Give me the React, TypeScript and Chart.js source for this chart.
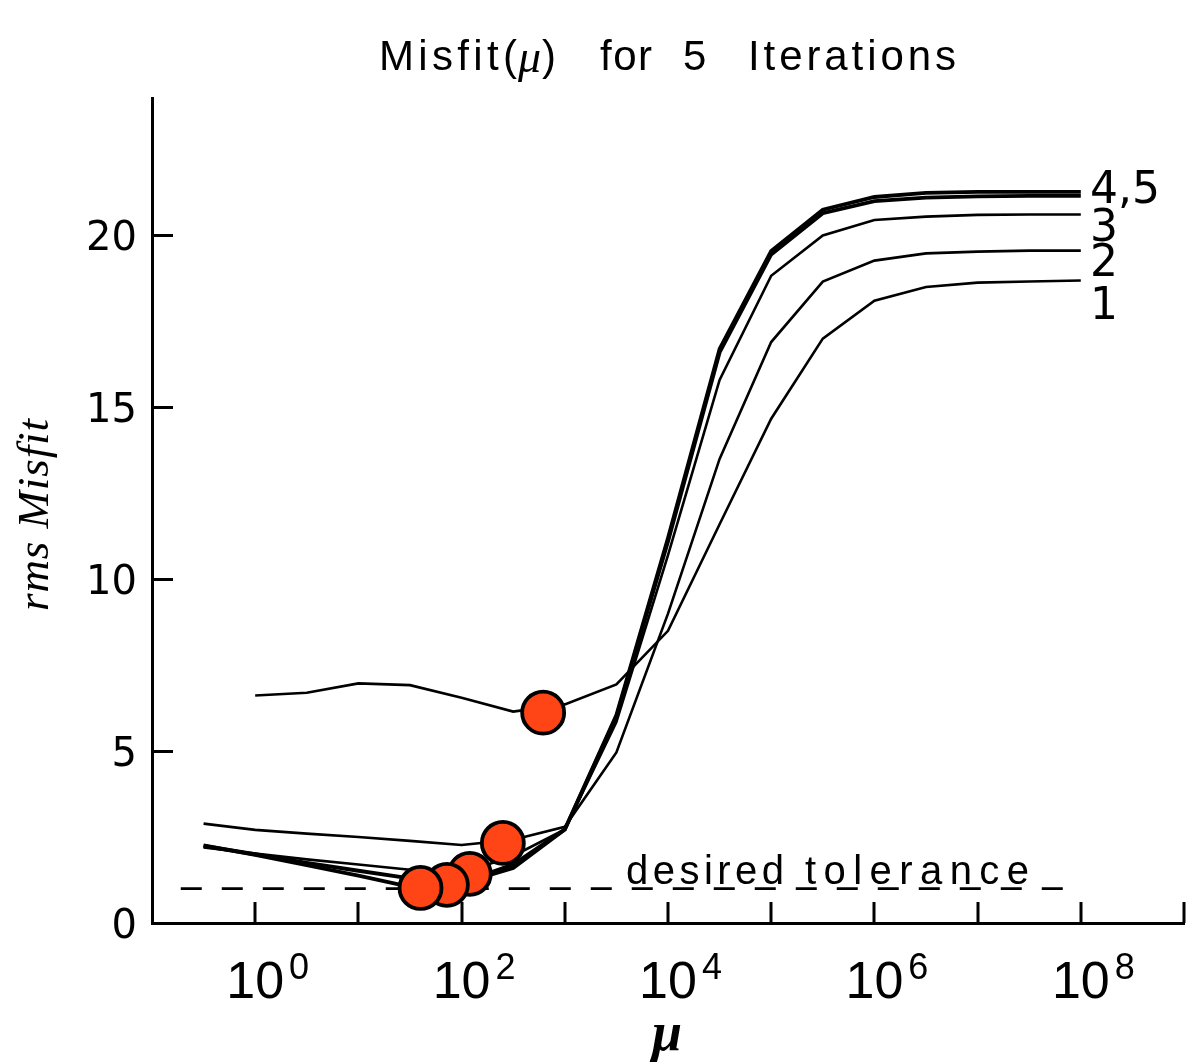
import React, { useEffect, useRef } from 'react';
import { Chart, registerables } from 'chart.js';

Chart.register(...registerables);

// Regularisation parameter mu, sampled every half decade
const mu = [
  0.316, 1, 3.16, 10, 31.6, 100, 316, 1000, 3162, 10000,
  31623, 100000, 316228, 1e6, 3162278, 1e7, 31622777, 1e8,
];

// rms misfit for each iteration as a function of mu
const misfitIter1 = [null, 6.62, 6.7, 6.97, 6.92, 6.55, 6.15, 6.36, 6.94, 8.5, 11.6, 14.67, 17.0, 18.1, 18.5, 18.63, 18.66, 18.69];
const misfitIter2 = [2.89, 2.71, 2.6, 2.5, 2.39, 2.27, 2.42, 2.8, 4.96, 9.0, 13.5, 16.9, 18.66, 19.27, 19.48, 19.53, 19.56, 19.56];
const misfitIter3 = [2.2, 2.02, 1.85, 1.7, 1.55, 1.45, 1.95, 2.72, 5.85, 10.7, 15.8, 18.83, 20.0, 20.45, 20.55, 20.6, 20.61, 20.61];
const misfitIter4 = [2.24, 2.0, 1.75, 1.52, 1.3, 1.18, 1.7, 2.72, 6.0, 11.1, 16.6, 19.45, 20.65, 21.0, 21.1, 21.14, 21.15, 21.15];
const misfitIter5 = [2.26, 1.98, 1.68, 1.38, 1.05, 1.15, 1.6, 2.72, 6.05, 11.2, 16.7, 19.55, 20.75, 21.12, 21.24, 21.27, 21.27, 21.27];

// mu selected at each iteration and its misfit
const chosenMu = [617, 251, 120, 72, 40];
const chosenMisfit = [6.12, 2.33, 1.43, 1.11, 1.02];

// target misfit
const toleranceMu = [0.19, 8.3e7];
const toleranceMisfit = 1.0;

const yTickValues = [0, 5, 10, 15, 20];
const xTickExponents = [0, 1, 2, 3, 4, 5, 6, 7, 8, 9];
const xLabelExponents = [0, 2, 4, 6, 8];

// end-of-curve labels: text and the series whose last value they sit next to
const curveLabelTexts = ['1', '2', '3', '4,5'];
const curveLabelSeries = [misfitIter1, misfitIter2, misfitIter3, misfitIter5];

const toPoints = (xs: number[], ys: (number | null)[]) =>
  xs.map((x, i) => ({ x, y: ys[i] }));

function drawSpaced(ctx: CanvasRenderingContext2D, text: string, left: number, baseline: number, width: number) {
  ctx.letterSpacing = '0px';
  const natural = ctx.measureText(text).width;
  const n = Array.from(text).length;
  const ls = n > 1 ? (width - natural) / (n - 1) : 0;
  ctx.letterSpacing = `${ls}px`;
  ctx.textAlign = 'left';
  ctx.fillText(text, left, baseline);
  ctx.letterSpacing = '0px';
}

const decorPlugin = {
  id: 'misfitDecor',
  afterDraw(chart: any) {
    const { ctx, chartArea, scales } = chart;
    const x = scales.x;
    const y = scales.y;
    ctx.save();
    ctx.fillStyle = '#000';
    ctx.strokeStyle = '#000';
    ctx.textBaseline = 'alphabetic';

    // inward tick marks
    ctx.lineWidth = 3;
    ctx.beginPath();
    yTickValues.forEach((v) => {
      if (v === 0) return;
      const py = Math.round(y.getPixelForValue(v)) + 0.5;
      ctx.moveTo(chartArea.left, py);
      ctx.lineTo(chartArea.left + 21, py);
    });
    xTickExponents.forEach((e) => {
      const px = Math.round(x.getPixelForValue(Math.pow(10, e)));
      ctx.moveTo(px, chartArea.bottom);
      ctx.lineTo(px, chartArea.bottom - 21);
    });
    ctx.stroke();

    // y tick labels
    ctx.font = '40px "DejaVu Sans"';
    ctx.textAlign = 'right';
    yTickValues.forEach((v) => {
      ctx.fillText(String(v), 137, y.getPixelForValue(v) + 14.5);
    });

    // x tick labels, 10 with a raised exponent
    xLabelExponents.forEach((e) => {
      const px = x.getPixelForValue(Math.pow(10, e));
      ctx.font = '52px "Liberation Sans"';
      ctx.textAlign = 'center';
      ctx.fillText('10', px, 998);
      const w = ctx.measureText('10').width;
      ctx.font = '36px "Liberation Sans"';
      ctx.textAlign = 'left';
      ctx.fillText(String(e), px + w / 2 + 5, 979);
    });

    // title
    ctx.font = '42px "Liberation Sans"';
    drawSpaced(ctx, 'Misfit(', 379, 70, 138);
    ctx.font = 'italic 46px "Liberation Serif"';
    ctx.textAlign = 'left';
    ctx.fillText('μ', 518, 72);
    ctx.font = '42px "Liberation Sans"';
    ctx.fillText(')', 542, 70);
    drawSpaced(ctx, 'for', 600, 70, 52);
    ctx.fillText('5', 683, 70);
    drawSpaced(ctx, 'Iterations', 748, 70, 208);

    // axis titles
    ctx.font = 'italic 45px "Liberation Serif"';
    ctx.save();
    ctx.translate(48, 611);
    ctx.rotate(-Math.PI / 2);
    drawSpaced(ctx, 'rms Misfit', 0, 0, 192);
    ctx.restore();
    ctx.font = 'italic bold 54px "Liberation Serif"';
    ctx.textAlign = 'center';
    ctx.fillText('μ', 667, 1050);

    // curve labels at the right end
    const labelOffsets = [38, 25, 26, 11];
    ctx.font = '44px "DejaVu Sans"';
    ctx.textAlign = 'left';
    curveLabelTexts.forEach((t, i) => {
      const series = curveLabelSeries[i];
      const last = series[series.length - 1] as number;
      ctx.fillText(t, 1090, y.getPixelForValue(last) + labelOffsets[i]);
    });

    // tolerance annotation
    ctx.font = '40px "Liberation Sans"';
    drawSpaced(ctx, 'desired', 626, 884, 158);
    drawSpaced(ctx, 'tolerance', 805, 884, 224);

    ctx.restore();
  },
};

export default function App() {
  const canvasRef = useRef<HTMLCanvasElement | null>(null);

  useEffect(() => {
    const canvas = canvasRef.current;
    if (!canvas) return;
    const thin = { borderColor: '#000', borderWidth: 2.6, pointRadius: 0, tension: 0, fill: false };
    const thick = { borderColor: '#000', borderWidth: 3.8, pointRadius: 0, tension: 0, fill: false };
    const chart = new Chart(canvas, {
      type: 'line',
      data: {
        datasets: [
          {
            label: 'chosen mu',
            data: toPoints(chosenMu, chosenMisfit),
            showLine: false,
            pointRadius: 21,
            pointBackgroundColor: '#FF4515',
            pointBorderColor: '#000',
            pointBorderWidth: 3.8,
            clip: false,
          } as any,
          { label: 'Iteration 1', data: toPoints(mu, misfitIter1), ...thin } as any,
          { label: 'Iteration 2', data: toPoints(mu, misfitIter2), ...thin } as any,
          { label: 'Iteration 3', data: toPoints(mu, misfitIter3), ...thin } as any,
          { label: 'Iteration 4', data: toPoints(mu, misfitIter4), ...thick } as any,
          { label: 'Iteration 5', data: toPoints(mu, misfitIter5), ...thick } as any,
          {
            label: 'desired tolerance',
            data: toPoints(toleranceMu, [toleranceMisfit, toleranceMisfit]),
            borderColor: '#000',
            borderWidth: 2.6,
            borderDash: [21, 20],
            pointRadius: 0,
          } as any,
        ],
      },
      options: {
        animation: false,
        responsive: false,
        events: [],
        layout: { padding: { top: 98, right: 3, left: 0, bottom: 0 }, autoPadding: false },
        plugins: {
          legend: { display: false },
          tooltip: { enabled: false },
          title: { display: false },
        },
        scales: {
          x: {
            type: 'logarithmic',
            min: 0.1,
            max: 1e9,
            ticks: { display: false },
            grid: { display: false },
            border: { display: true, color: '#000', width: 3 },
            afterFit: (s: any) => { s.height = 139; },
          },
          y: {
            type: 'linear',
            min: 0,
            max: 24,
            ticks: { display: false },
            grid: { display: false },
            border: { display: true, color: '#000', width: 3 },
            afterFit: (s: any) => { s.width = 152; },
          },
        },
      } as any,
      plugins: [decorPlugin],
    });
    return () => chart.destroy();
  }, []);

  return (
    <div style={{ position: 'fixed', left: 0, top: 0, width: 1187, height: 1062, background: '#fff' }}>
      <canvas ref={canvasRef} width={1187} height={1062} style={{ display: 'block' }} />
    </div>
  );
}
